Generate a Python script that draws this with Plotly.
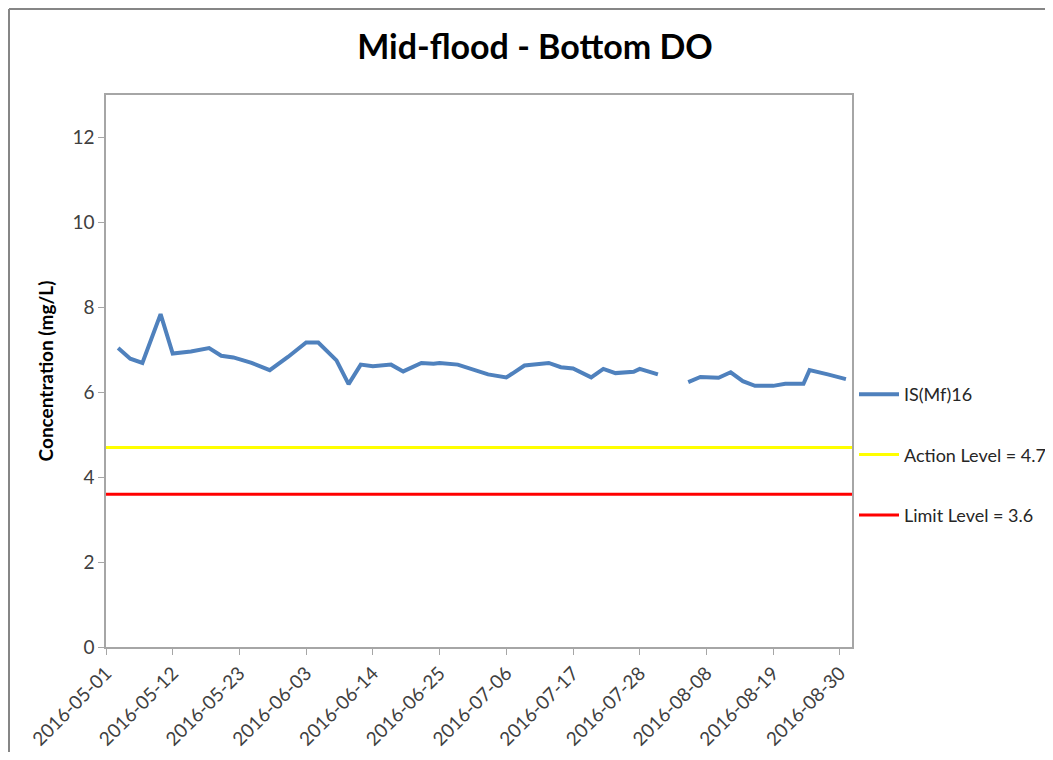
import plotly.graph_objects as go

dates = ["2016-05-03", "2016-05-05", "2016-05-07", "2016-05-10", "2016-05-12", "2016-05-15",
         "2016-05-18", "2016-05-20", "2016-05-22", "2016-05-25", "2016-05-28", "2016-05-31",
         "2016-06-03", "2016-06-05", "2016-06-08", "2016-06-10", "2016-06-12", "2016-06-14",
         "2016-06-17", "2016-06-19", "2016-06-22", "2016-06-24", "2016-06-25", "2016-06-28",
         "2016-07-03", "2016-07-06", "2016-07-07", "2016-07-09", "2016-07-13", "2016-07-15",
         "2016-07-17", "2016-07-20", "2016-07-22", "2016-07-24", "2016-07-27", "2016-07-28",
         "2016-07-31", "2016-08-02", "2016-08-05", "2016-08-07", "2016-08-10", "2016-08-12",
         "2016-08-14", "2016-08-16", "2016-08-19", "2016-08-21", "2016-08-24", "2016-08-25",
         "2016-08-28", "2016-08-31"]
do_values = [7.04, 6.79, 6.69, 7.84, 6.91, 6.96,
             7.04, 6.86, 6.82, 6.69, 6.52, 6.83,
             7.17, 7.17, 6.75, 6.19, 6.65, 6.61,
             6.65, 6.49, 6.69, 6.67, 6.69, 6.65,
             6.42, 6.35, 6.44, 6.63, 6.69, 6.59,
             6.56, 6.35, 6.55, 6.45, 6.48, 6.55,
             6.42, None, 6.24, 6.36, 6.34, 6.47,
             6.26, 6.15, 6.15, 6.20, 6.20, 6.52,
             6.42, 6.31]

action_level = 4.7
limit_level = 3.6
x_range = ["2016-05-01", "2016-09-01"]
tick_dates = ["2016-05-01", "2016-05-12", "2016-05-23", "2016-06-03", "2016-06-14",
              "2016-06-25", "2016-07-06", "2016-07-17", "2016-07-28", "2016-08-08",
              "2016-08-19", "2016-08-30"]
y_ticks = [0, 2, 4, 6, 8, 10, 12]

FONT = "Lato, Carlito, 'Open Sans', sans-serif"

fig = go.Figure()
fig.add_trace(go.Scatter(x=dates, y=do_values, mode="lines", name="IS(Mf)16",
                         line=dict(color="#4F81BD", width=4), connectgaps=False,
                         legendgroup="a"))
fig.add_trace(go.Scatter(x=x_range, y=[action_level, action_level], mode="lines",
                         name="Action Level = 4.7", line=dict(color="#FFFF00", width=3),
                         legendgroup="b"))
fig.add_trace(go.Scatter(x=x_range, y=[limit_level, limit_level], mode="lines",
                         name="Limit Level = 3.6", line=dict(color="#FF0000", width=3),
                         legendgroup="c"))

# page body has an 8px margin, so figure coordinates = screen coordinates - 8
OFF = 8
L, R, T, B = 106 - OFF, 852 - OFF, 95 - OFF, 647 - OFF
W, H = 1053 - OFF, 760 - 2 * OFF
pw, ph = R - L, B - T


def px(x):
    return (x - OFF - L) / pw


def py(y):
    return (B - (y - OFF)) / ph


fig.update_layout(
    width=W, height=H,
    margin=dict(l=L, r=W - R, t=T, b=H - B, autoexpand=False),
    paper_bgcolor="white", plot_bgcolor="white",
    font=dict(family=FONT, color="#404040", size=18),
    title=dict(text="<b>Mid-flood - Bottom DO</b>", x=(535 - OFF) / W, xref="container",
               xanchor="center", y=1 - (47 - OFF) / H, yanchor="middle",
               font=dict(size=34, color="#000000", family=FONT)),
    showlegend=True,
    legend=dict(x=px(854), xanchor="left", y=py(455), yanchor="middle",
                tracegroupgap=34, font=dict(size=18, color="#262626"),
                bgcolor="rgba(0,0,0,0)", itemwidth=40),
    xaxis=dict(type="date", range=x_range, tickvals=tick_dates, tickformat="%Y-%m-%d",
               tickangle=-45, ticks="outside", ticklen=6, tickcolor="#A6A6A6",
               showline=True, linecolor="#A6A6A6", linewidth=1.5, mirror=True,
               showgrid=False, zeroline=False,
               tickfont=dict(size=19, color="#404040")),
    yaxis=dict(range=[0, 13], tickvals=y_ticks, ticks="outside", ticklen=6,
               tickcolor="#A6A6A6", showline=True, linecolor="#A6A6A6", linewidth=1.5,
               mirror=True, showgrid=False, zeroline=False,
               tickfont=dict(size=19, color="#404040"),
               title=dict(text="<b>Concentration (mg/L)</b>", standoff=14,
                          font=dict(size=19, color="#000000"))),
    shapes=[
        dict(type="line", xref="paper", yref="paper", x0=px(9), x1=px(9), y0=py(800),
             y1=py(9), line=dict(color="#868686", width=2)),
        dict(type="line", xref="paper", yref="paper", x0=px(9), x1=px(1100), y0=py(9),
             y1=py(9), line=dict(color="#868686", width=2)),
    ],
)

fig.write_html("out.html")
